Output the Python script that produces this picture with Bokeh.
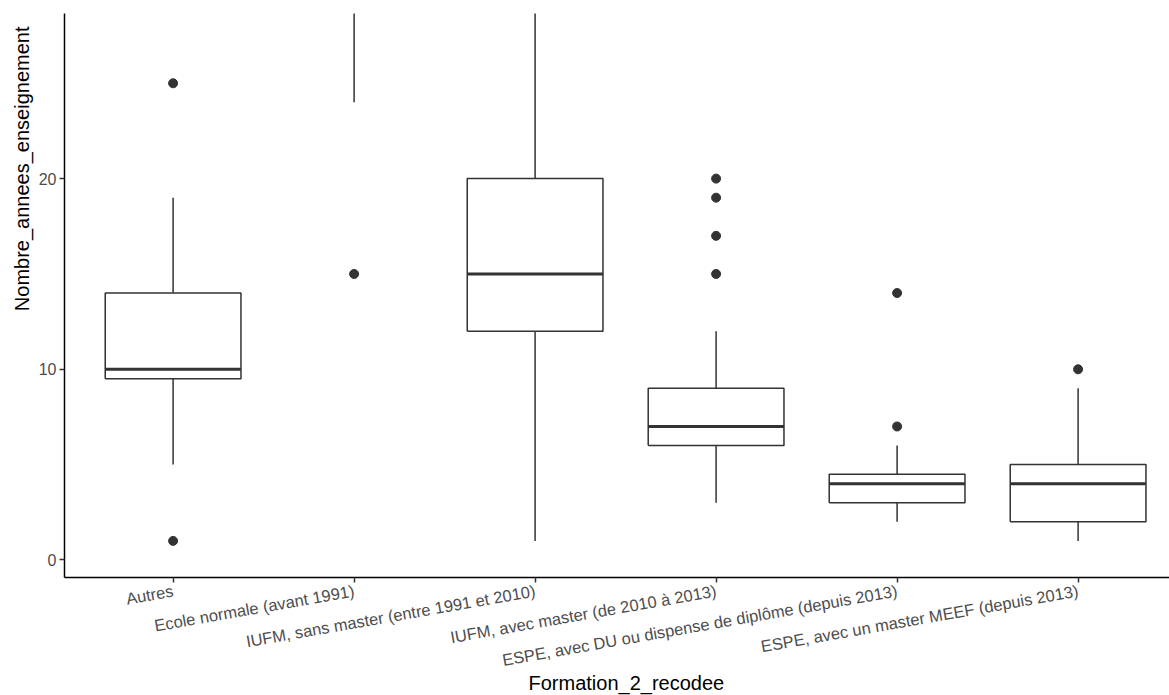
import math
from bokeh.plotting import figure
from bokeh.models import Range1d, FixedTicker, Title
from bokeh.embed import file_html
from bokeh.resources import INLINE

# ---- data ----
categories = [
    "Autres",
    "Ecole normale (avant 1991)",
    "IUFM, sans master (entre 1991 et 2010)",
    "IUFM, avec master (de 2010 à 2013)",
    "ESPE, avec DU ou dispense de diplôme (depuis 2013)",
    "ESPE, avec un master MEEF (depuis 2013)",
]
whisker_low = [5, 24, 1, 3, 2, 1]
q1 = [9.5, 30, 12, 6, 3, 2]
median = [10, 34, 15, 7, 4, 4]
q3 = [14, 37, 20, 9, 4.5, 5]
whisker_high = [19, 39, 32, 12, 6, 9]

outlier_cat = [0, 0, 1, 3, 3, 3, 3, 4, 4, 5]
outlier_val = [25, 1, 15, 15, 17, 19, 20, 7, 14, 10]

y_ticks = [0, 10, 20]

# ---- styling ----
BOX_W = 0.75
LINE = "#333333"

xs = [i + 1 for i in range(len(categories))]

p = figure(
    width=1169, height=695,
    x_range=Range1d(0.4, 6.505), y_range=Range1d(-0.92, 28.66),
    output_backend="svg", toolbar_location=None,
    min_border_left=64, min_border_right=0, min_border_top=13, min_border_bottom=118,
)
p.outline_line_color = None
p.xgrid.visible = False
p.ygrid.visible = False
p.background_fill_color = "white"
p.border_fill_color = "white"

# whiskers
p.segment(x0=xs, y0=whisker_low, x1=xs, y1=q1, line_color=LINE, line_width=1.5)
p.segment(x0=xs, y0=q3, x1=xs, y1=whisker_high, line_color=LINE, line_width=1.5)
# boxes (outlines)
box_xs = [[x - BOX_W / 2, x + BOX_W / 2, x + BOX_W / 2, x - BOX_W / 2, x - BOX_W / 2] for x in xs]
box_ys = [[a, a, b, b, a] for a, b in zip(q1, q3)]
p.multi_line(xs=box_xs, ys=box_ys, line_color=LINE, line_width=1.5)
# medians
p.segment(x0=[x - BOX_W / 2 for x in xs], y0=median,
          x1=[x + BOX_W / 2 for x in xs], y1=median,
          line_color=LINE, line_width=3)
# outliers
p.scatter(x=[xs[i] for i in outlier_cat], y=outlier_val, size=9,
          fill_color=LINE, line_color=LINE)

# axes
xa = p.xaxis[0]
xa.ticker = FixedTicker(ticks=xs)
xa.major_label_overrides = {x: c for x, c in zip(xs, categories)}
xa.major_label_orientation = math.radians(10)
xa.minor_tick_line_color = None
xa.axis_label = None

ya = p.yaxis[0]
ya.ticker = FixedTicker(ticks=y_ticks)
ya.minor_tick_line_color = None
ya.axis_label = None

for ax in (xa, ya):
    ax.axis_line_color = "black"
    ax.axis_line_width = 1.5
    ax.major_tick_line_color = LINE
    ax.major_tick_line_width = 1.5
    ax.major_tick_out = 5
    ax.major_tick_in = 0
    ax.major_label_text_font = "Liberation Sans"
    ax.major_label_text_color = "#4D4D4D"
    ax.major_label_standoff = 3

xa.major_label_text_font_size = "16.5px"
ya.major_label_text_font_size = "16px"
xa.major_label_standoff = 8

xtitle = Title(text="Formation_2_recodee", align="left", offset=464,
               text_font="Liberation Sans", text_font_size="20px",
               text_font_style="normal", text_color="black", standoff=-21)
p.add_layout(xtitle, "below")

ytitle = Title(text="Nombre_annees_enseignement", align="right", offset=13,
               text_font="Liberation Sans", text_font_size="20px",
               text_font_style="normal", text_color="black", standoff=6)
p.add_layout(ytitle, "left")

open("out.html", "w").write(file_html(p, INLINE))
